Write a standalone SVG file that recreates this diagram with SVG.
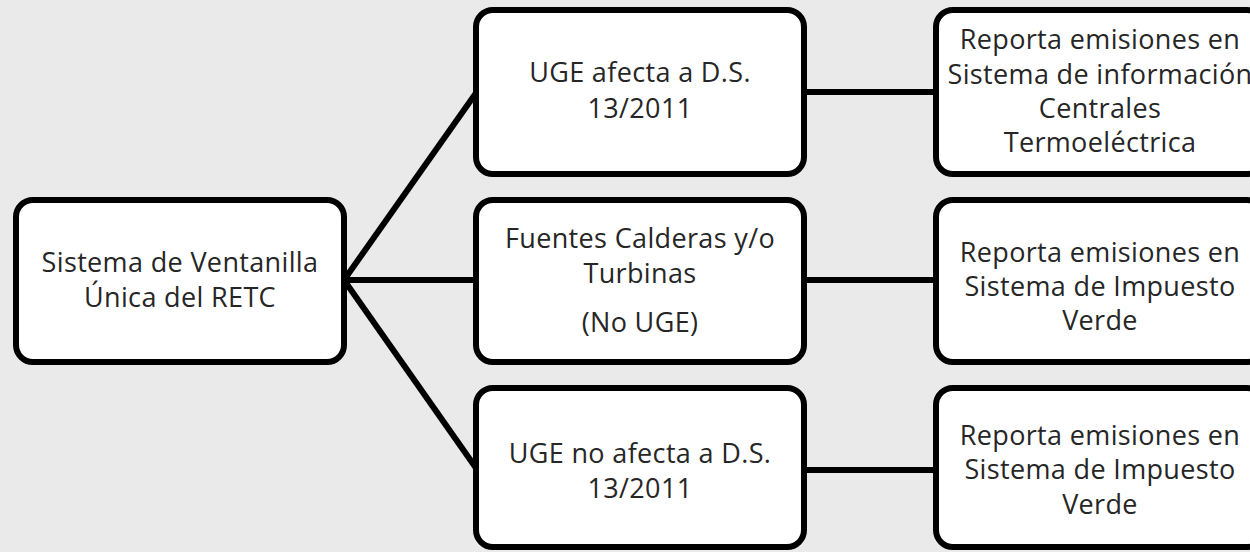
<svg xmlns="http://www.w3.org/2000/svg" width="1250" height="552" viewBox="0 0 1250 552">
<style>
.box{fill:#ffffff;stroke:#000000;stroke-width:6}
.conn{fill:none;stroke:#000000;stroke-width:6}
text{font-family:"Open Sans","Noto Sans","DejaVu Sans",sans-serif;font-size:27px;letter-spacing:0.35px;fill:#262626;text-anchor:middle}
</style>
<rect x="0" y="0" width="1250" height="552" fill="#eaeaea"/>
<g id="connectors">
<path class="conn" d="M344 280 L476 93"/>
<path class="conn" d="M344 280 L476 280"/>
<path class="conn" d="M344 280 L476 468"/>
<path class="conn" d="M804 92 L936 92"/>
<path class="conn" d="M804 280 L936 280"/>
<path class="conn" d="M804 470 L936 470"/>
</g>
<g id="n-ventanilla">
<rect class="box" x="16" y="200" width="328" height="162" rx="17"/>
<text x="180" y="272">Sistema de Ventanilla</text>
<text x="180" y="307">Única del RETC</text>
</g>
<g id="n-uge-afecta">
<rect class="box" x="476" y="10" width="328" height="164" rx="17"/>
<text x="640" y="82">UGE afecta a D.S.</text>
<text x="640" y="118">13/2011</text>
</g>
<g id="n-fuentes">
<rect class="box" x="476" y="200" width="328" height="162" rx="17"/>
<text x="640" y="248">Fuentes Calderas y/o</text>
<text x="640" y="283">Turbinas</text>
<text x="640" y="332">(No UGE)</text>
</g>
<g id="n-uge-no-afecta">
<rect class="box" x="476" y="388" width="328" height="159" rx="17"/>
<text x="640" y="463">UGE no afecta a D.S.</text>
<text x="640" y="498">13/2011</text>
</g>
<g id="n-reporta-centrales">
<rect class="box" x="936" y="10" width="328" height="164" rx="17"/>
<text x="1100" y="49">Reporta emisiones en</text>
<text x="1100" y="84">Sistema de información</text>
<text x="1100" y="118">Centrales</text>
<text x="1100" y="152">Termoeléctrica</text>
</g>
<g id="n-reporta-verde-1">
<rect class="box" x="936" y="200" width="328" height="162" rx="17"/>
<text x="1100" y="262">Reporta emisiones en</text>
<text x="1100" y="296">Sistema de Impuesto</text>
<text x="1100" y="330">Verde</text>
</g>
<g id="n-reporta-verde-2">
<rect class="box" x="936" y="388" width="328" height="159" rx="17"/>
<text x="1100" y="445">Reporta emisiones en</text>
<text x="1100" y="479">Sistema de Impuesto</text>
<text x="1100" y="514">Verde</text>
</g>
</svg>
